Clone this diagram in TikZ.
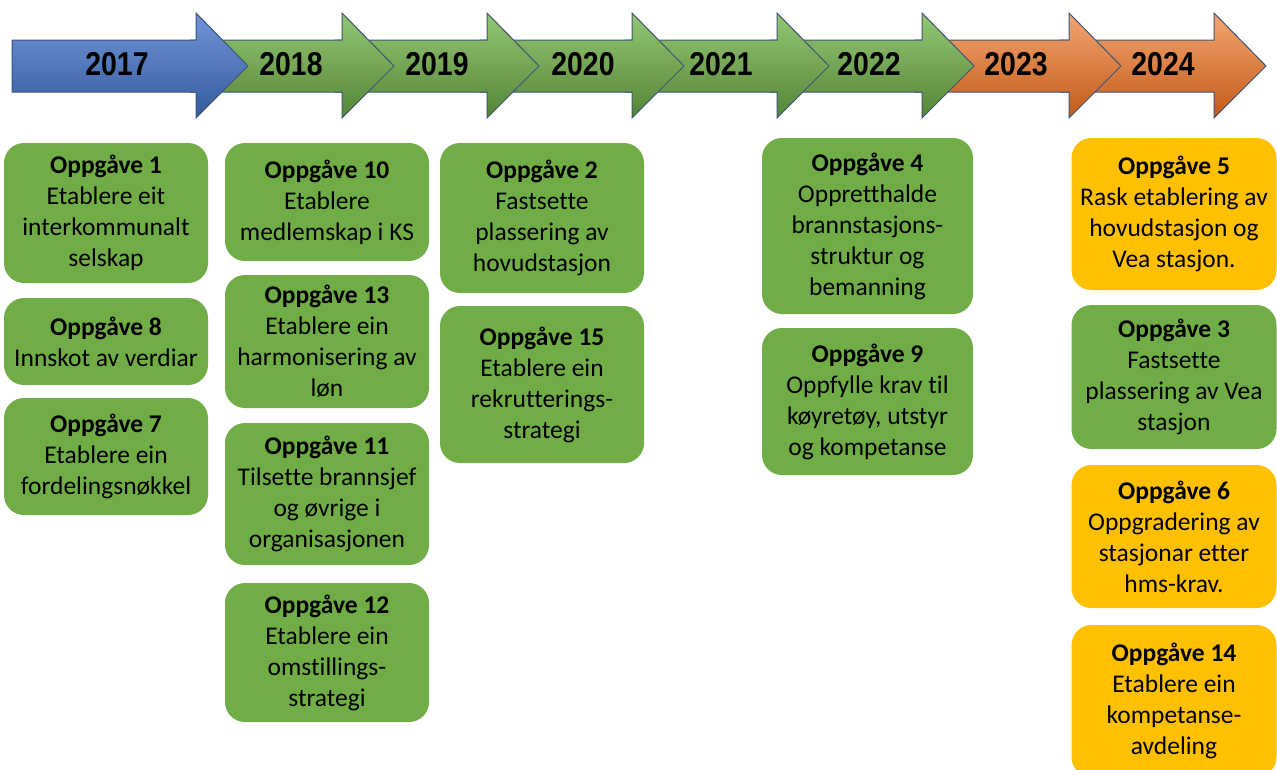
\documentclass[tikz,border=0pt]{standalone}
\usepackage{fontspec}
\setmainfont{Carlito}[Ligatures=NoCommon]
\newfontfamily\yearfont[FakeStretch=0.86]{Liberation Sans}
\definecolor{grn}{HTML}{70AD47}
\definecolor{ylw}{HTML}{FFC000}
\definecolor{edge}{HTML}{3E5474}
\definecolor{bluetop}{HTML}{7195D9}
\definecolor{bluemid}{HTML}{4472C4}
\definecolor{bluebot}{HTML}{345A9E}
\definecolor{grntop}{HTML}{94C774}
\definecolor{grnmid}{HTML}{70AD47}
\definecolor{grnbot}{HTML}{548537}
\definecolor{orgtop}{HTML}{F4A672}
\definecolor{orgmid}{HTML}{ED7D31}
\definecolor{orgbot}{HTML}{C15A18}
\tikzset{
  box/.style={rounded corners=20pt, inner sep=0pt, align=center, text=black,
    font=\fontsize{25.5}{31}\selectfont},
  gbox/.style={box, fill=grn},
  ybox/.style={box, fill=ylw},
  yr/.style={font=\yearfont\bfseries\fontsize{33}{33}\selectfont, text=black, inner sep=0pt},
  arr/.style={draw=edge, line width=1pt, line join=miter},
  bluearr/.style={arr, top color=bluetop, middle color=bluemid, bottom color=bluebot},
  grnarr/.style={arr, top color=grntop, middle color=grnmid, bottom color=grnbot},
  orgarr/.style={arr, top color=orgtop, middle color=orgmid, bottom color=orgbot},
}
\newcommand{\arrowpath}[3]{(#1,40) -- (#2,40) -- (#2,13) -- (#3,66) -- (#2,118) -- (#2,92) -- (#1,92) -- cycle}
\begin{document}
\begin{tikzpicture}[x=1pt,y=-1pt]
\useasboundingbox (0,0) rectangle (1277,769);
% arrows, right to left so that each head lies over the next body
\path[orgarr] \arrowpath{1060}{1214}{1266};
\path[orgarr] \arrowpath{915}{1069}{1121};
\path[grnarr] \arrowpath{770}{922}{974};
\path[grnarr] \arrowpath{625}{777}{829};
\path[grnarr] \arrowpath{480}{632}{684};
\path[grnarr] \arrowpath{335}{487}{539};
\path[grnarr] \arrowpath{190}{342}{394};
\path[bluearr] \arrowpath{12}{196}{248};
% years
\node[yr] (y2017) at (117,64) {2017};
\node[yr] (y2018) at (291,64) {2018};
\node[yr] (y2019) at (437,64) {2019};
\node[yr] (y2020) at (583,64) {2020};
\node[yr] (y2021) at (721,64) {2021};
\node[yr] (y2022) at (869,64) {2022};
\node[yr] (y2023) at (1016,64) {2023};
\node[yr] (y2024) at (1163,64) {2024};
% column 2017
\node[gbox, minimum width=204pt, minimum height=140pt] (o1) at (106,213)
  {\textbf{Oppgåve 1}\\Etablere eit\\interkommunalt\\selskap};
\node[gbox, minimum width=204pt, minimum height=87pt] (o8) at (106,341.5)
  {\textbf{Oppgåve 8}\\Innskot av verdiar};
\node[gbox, minimum width=204pt, minimum height=117pt] (o7) at (106,456.5)
  {\textbf{Oppgåve 7}\\Etablere ein\\fordelingsnøkkel};
% column 2018
\node[gbox, minimum width=204pt, minimum height=118pt] (o10) at (327,202)
  {\textbf{Oppgåve 10}\\Etablere\\medlemskap i KS};
\node[gbox, minimum width=204pt, minimum height=133pt] (o13) at (327,341.5)
  {\textbf{Oppgåve 13}\\Etablere ein\\harmonisering av\\løn};
\node[gbox, minimum width=204pt, minimum height=142pt] (o11) at (327,494)
  {\textbf{Oppgåve 11}\\Tilsette brannsjef\\og øvrige i\\organisasjonen};
\node[gbox, minimum width=204pt, minimum height=139pt] (o12) at (327,652.5)
  {\textbf{Oppgåve 12}\\Etablere ein\\omstillings-\\strategi};
% column 2020
\node[gbox, minimum width=204pt, minimum height=150pt] (o2) at (542,218)
  {\textbf{Oppgåve 2}\\Fastsette\\plassering av\\hovudstasjon};
\node[gbox, minimum width=204pt, minimum height=157pt] (o15) at (542,384.5)
  {\textbf{Oppgåve 15}\\Etablere ein\\rekrutterings-\\strategi};
% column 2022
\node[gbox, minimum width=211pt, minimum height=176pt] (o4) at (867.5,226)
  {\textbf{Oppgåve 4}\\Oppretthalde\\brannstasjons-\\struktur og\\bemanning};
\node[gbox, minimum width=211pt, minimum height=147pt] (o9) at (867.5,401.5)
  {\textbf{Oppgåve 9}\\Oppfylle krav til\\køyretøy, utstyr\\og kompetanse};
% column 2024
\node[ybox, minimum width=205pt, minimum height=152pt] (o5) at (1174,214)
  {\textbf{Oppgåve 5}\\Rask etablering av\\hovudstasjon og\\Vea stasjon.};
\node[gbox, minimum width=205pt, minimum height=144pt] (o3) at (1174,377)
  {\textbf{Oppgåve 3}\\Fastsette\\plassering av Vea\\stasjon};
\node[ybox, minimum width=205pt, minimum height=143pt] (o6) at (1174,536.5)
  {\textbf{Oppgåve 6}\\Oppgradering av\\stasjonar etter\\hms-krav.};
\node[ybox, minimum width=205pt, minimum height=152pt] (o14) at (1174,701)
  {\textbf{Oppgåve 14}\\Etablere ein\\kompetanse-\\avdeling};
\end{tikzpicture}
\end{document}
